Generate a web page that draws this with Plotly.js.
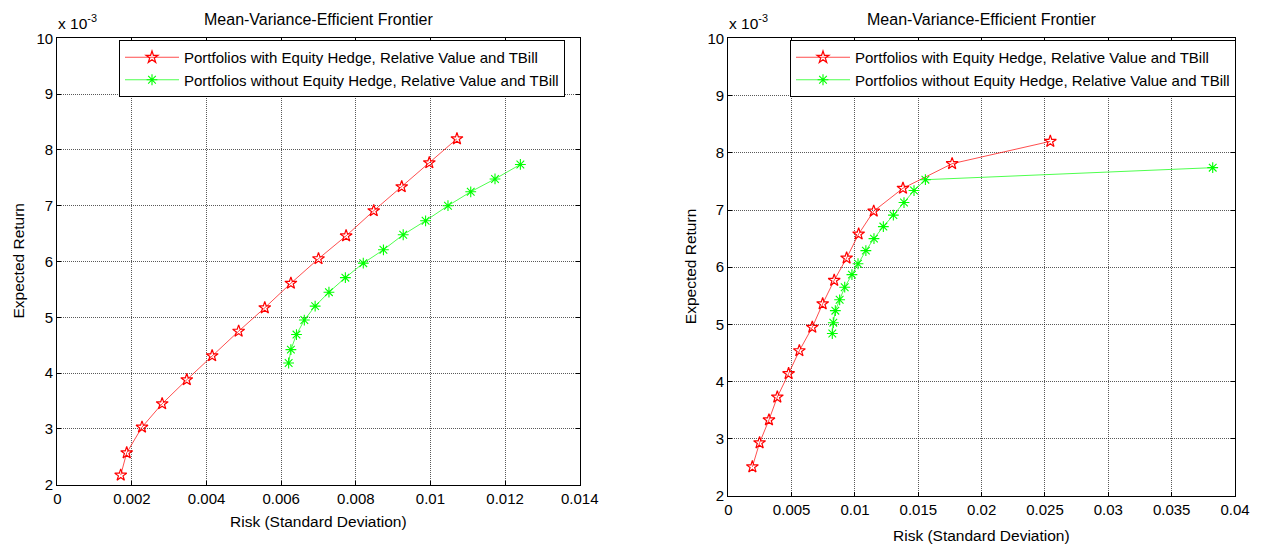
<!DOCTYPE html>
<html>
<head>
<meta charset="utf-8">
<script src="https://cdn.plot.ly/plotly-3.0.1.min.js"></script>
<style>html,body{margin:0;padding:0;background:#fff;}#chart{width:1264px;height:544px;}</style>
</head>
<body>
<div id="chart"></div>
<script>
// Left chart: risk (std dev) and expected return (x 10^-3)
var leftWithRisk = [0.00170,0.00186,0.00227,0.00281,0.00347,0.00415,0.00486,0.00556,0.00626,0.00700,0.00774,0.00848,0.00923,0.00997,0.01071];
var leftWithRet  = [2.17,2.57,3.03,3.45,3.88,4.31,4.75,5.17,5.61,6.05,6.46,6.91,7.34,7.77,8.20];
var leftWithoutRisk = [0.00620,0.00626,0.00641,0.00662,0.00691,0.00728,0.00772,0.00820,0.00874,0.00927,0.00987,0.01047,0.01108,0.01173,0.01241];
var leftWithoutRet  = [4.18,4.42,4.69,4.95,5.20,5.45,5.71,5.97,6.21,6.48,6.73,7.00,7.25,7.48,7.74];

// Right chart
var rightWithRisk = [0.00190,0.00247,0.00321,0.00387,0.00476,0.00561,0.00663,0.00745,0.00836,0.00934,0.01029,0.01148,0.01379,0.01767,0.02542];
var rightWithRet  = [2.51,2.93,3.33,3.73,4.14,4.54,4.95,5.36,5.77,6.16,6.58,6.98,7.38,7.81,8.20];
var rightWithoutRisk = [0.00821,0.00829,0.00845,0.00879,0.00919,0.00976,0.01024,0.01086,0.01150,0.01224,0.01303,0.01387,0.01466,0.01556,0.03824];
var rightWithoutRet  = [4.84,5.03,5.24,5.43,5.65,5.87,6.06,6.29,6.50,6.71,6.91,7.13,7.34,7.53,7.74];

var seriesNames = ["Portfolios with Equity Hedge, Relative Value and TBill",
                   "Portfolios without Equity Hedge, Relative Value and TBill"];
var titleText = "Mean-Variance-Efficient Frontier";
var xTitle = "Risk (Standard Deviation)";
var yTitle = "Expected Return";
var expText = "x 10<sup>-3</sup>";

var FONT = "Liberation Sans, Arial, Helvetica, sans-serif";
var W = 1264, H = 544;
function fx(p){return p/W;}
function fy(p){return 1-p/H;}

var redStyle = {line:{color:"#ff0000",width:0.7}, marker:{symbol:"star-open",size:9,color:"#ff0000",line:{width:1.2,color:"#ff0000"}}};
var greenStyle = {line:{color:"#00ff00",width:0.7}, marker:{symbol:"asterisk-open",size:9,color:"#00ff00",line:{width:1.1,color:"#00ff00"}}};

function tr(x,y,name,st,xa,ya,leg){
  return {x:x,y:y,name:name,type:"scatter",mode:"lines+markers",xaxis:xa,yaxis:ya,legend:leg,
          line:st.line,marker:st.marker};
}
var data = [
  tr(leftWithRisk,leftWithRet,seriesNames[0],redStyle,"x","y","legend"),
  tr(leftWithoutRisk,leftWithoutRet,seriesNames[1],greenStyle,"x","y","legend"),
  tr(rightWithRisk,rightWithRet,seriesNames[0],redStyle,"x2","y2","legend2"),
  tr(rightWithoutRisk,rightWithoutRet,seriesNames[1],greenStyle,"x2","y2","legend2")
];

function ax(extra){
  var a = {showline:true,linecolor:"#000",linewidth:1.2,mirror:"ticks",ticks:"inside",ticklen:4,tickcolor:"#000",
           showgrid:true,gridcolor:"rgba(0,0,0,0.65)",griddash:"1px,1px",gridwidth:1,zeroline:false,
           tickfont:{family:FONT,size:15,color:"#000"},fixedrange:true};
  for (var k in extra) a[k]=extra[k];
  return a;
}

var L = {x0:57.3,x1:579.7,y0:38.4,y1:484.6};
var R = {x0:728.3,x1:1235,y0:38.4,y1:496};

var legFont = {family:FONT,size:15,color:"#000"};
var layout = {
  width:W,height:H,margin:{l:0,r:0,t:0,b:0},paper_bgcolor:"#fff",plot_bgcolor:"#fff",
  font:{family:FONT,color:"#000"},
  xaxis: ax({domain:[fx(L.x0),fx(L.x1)],range:[0,0.014],dtick:0.002,tick0:0,anchor:"y"}),
  yaxis: ax({domain:[fy(L.y1),fy(L.y0)],range:[2,10],dtick:1,tick0:2,anchor:"x"}),
  xaxis2: ax({domain:[fx(R.x0),fx(R.x1)],range:[0,0.04],dtick:0.005,tick0:0,anchor:"y2"}),
  yaxis2: ax({domain:[fy(R.y1),fy(R.y0)],range:[2,10],dtick:1,tick0:2,anchor:"x2"}),
  legend:{x:fx(119),y:fy(40),xanchor:"left",yanchor:"top",bgcolor:"#fff",bordercolor:"#000",borderwidth:1,
          font:legFont,itemwidth:54,tracegroupgap:0},
  legend2:{x:fx(790),y:fy(40),xanchor:"left",yanchor:"top",bgcolor:"#fff",bordercolor:"#000",borderwidth:1,
          font:legFont,itemwidth:54,tracegroupgap:0},
  showlegend:true,
  annotations:[
    {text:titleText,xref:"paper",yref:"paper",x:fx((L.x0+L.x1)/2),y:fy(20),xanchor:"center",yanchor:"middle",showarrow:false,font:{family:FONT,size:16}},
    {text:titleText,xref:"paper",yref:"paper",x:fx((R.x0+R.x1)/2),y:fy(20),xanchor:"center",yanchor:"middle",showarrow:false,font:{family:FONT,size:16}},
    {text:expText,xref:"paper",yref:"paper",x:fx(56),y:fy(22),xanchor:"left",yanchor:"middle",showarrow:false,font:{family:FONT,size:15.5}},
    {text:expText,xref:"paper",yref:"paper",x:fx(727),y:fy(22),xanchor:"left",yanchor:"middle",showarrow:false,font:{family:FONT,size:15.5}},
    {text:xTitle,xref:"paper",yref:"paper",x:fx((L.x0+L.x1)/2),y:fy(521),xanchor:"center",yanchor:"middle",showarrow:false,font:{family:FONT,size:15.5}},
    {text:xTitle,xref:"paper",yref:"paper",x:fx((R.x0+R.x1)/2),y:fy(535),xanchor:"center",yanchor:"middle",showarrow:false,font:{family:FONT,size:15.5}},
    {text:yTitle,xref:"paper",yref:"paper",x:fx(18),y:fy((L.y0+L.y1)/2),xanchor:"center",yanchor:"middle",textangle:-90,showarrow:false,font:{family:FONT,size:15.5}},
    {text:yTitle,xref:"paper",yref:"paper",x:fx(690),y:fy((R.y0+R.y1)/2),xanchor:"center",yanchor:"middle",textangle:-90,showarrow:false,font:{family:FONT,size:15.5}}
  ]
};
Plotly.newPlot("chart",data,layout,{displayModeBar:false,staticPlot:true});
</script>
</body>
</html>
